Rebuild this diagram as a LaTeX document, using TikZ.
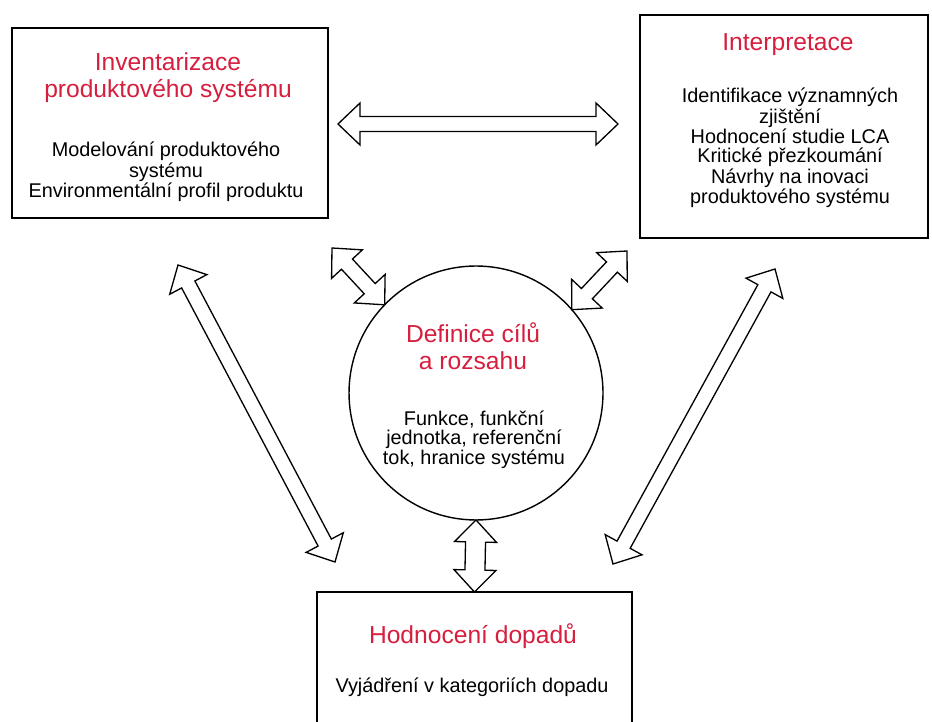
\documentclass[tikz,border=0pt]{standalone}
\usepackage{fontspec}
\setmainfont{Liberation Sans}
\usepackage{tikz}
\usetikzlibrary{positioning,calc}
\definecolor{lcared}{RGB}{214,30,62}
\tikzset{
  phasebox/.style={draw, line width=0.9pt, fill=white, inner sep=0pt, outer sep=0pt},
  goalnode/.style={draw, circle, line width=0.8pt, minimum size=5.08cm, inner sep=0pt, outer sep=0pt},
  headtext/.style={text=lcared, align=center, inner sep=0pt, font={\fontsize{14}{15.3}\selectfont}},
  bodytext/.style={text=black, align=center, inner sep=0pt, font={\fontsize{11.3}{10.6}\selectfont}},
  arrowline/.style={draw, line width=0.75pt, fill=white, line join=miter}
}
% hollow double arrow between two points, optional shaft half width
\newcommand{\hollowarrow}[3][0.15cm]{%
  \coordinate (hA) at ($(#2)!0.44cm!(#3)$);
  \coordinate (hB) at ($(#3)!0.44cm!(#2)$);
  \draw[arrowline] (#2) -- ($(hA)!0.42cm!90:(#3)$) -- ($(hA)!#1!90:(#3)$)
    -- ($(hB)!#1!-90:(#2)$) -- ($(hB)!0.42cm!-90:(#2)$) -- (#3)
    -- ($(hB)!0.42cm!90:(#2)$) -- ($(hB)!#1!90:(#2)$)
    -- ($(hA)!#1!-90:(#3)$) -- ($(hA)!0.42cm!-90:(#3)$) -- cycle;
}

\begin{document}
\begin{tikzpicture}[x=0.02cm, y=-0.02cm]
  \useasboundingbox (0,0) rectangle (932,722);

  % four phases
  \node[phasebox, minimum width=6.32cm, minimum height=3.8cm] (inv) at (170,123) {};
  \node[headtext] (invhead) at (168,78) {Inventarizace\\produktového systému};
  \node[bodytext] (invbody) at (166,172) {Modelování produktového\\systému\\Environmentální profil produktu};

  \node[phasebox, minimum width=5.76cm, minimum height=4.46cm] (int) at (784,126.5) {};
  \node[headtext] (inthead) at (788,45) {Interpretace};
  \node[bodytext] (intbody) at (790,148) {Identifikace významných\\zjištění\\Hodnocení studie LCA\\Kritické přezkoumání\\Návrhy na inovaci\\produktového systému};

  \node[goalnode] (def) at (476,393) {};
  \node[headtext] (defhead) at (473,346) {Definice cílů\\a rozsahu};
  \node[bodytext] (defbody) at (474,440) {Funkce, funkční\\jednotka, referenční\\tok, hranice systému};

  \node[phasebox, minimum width=6.3cm, minimum height=3.3cm] (hod) at (474.5,674.5) {};
  \node[headtext] (hodhead) at (473,636) {Hodnocení dopadů};
  \node[bodytext] (hodbody) at (472,687) {Vyjádření v kategoriích dopadu};

  % free arrow ends
  \coordinate (invR) at (338,124);
  \coordinate (intL) at (618,124);
  \coordinate (ulTip) at (332,248);
  \coordinate (urTip) at (627,251);
  \coordinate (invLow) at (178,265);
  \coordinate (hodUL) at (335,562);
  \coordinate (intLow) at (775,269);
  \coordinate (hodUR) at (613,564);

  % connections
  \hollowarrow{invR}{intL}
  \hollowarrow{ulTip}{def.136}
  \hollowarrow{urTip}{def.41}
  \hollowarrow{invLow}{hodUL}
  \hollowarrow{intLow}{hodUR}
  \hollowarrow[0.2cm]{def.south}{hod.north}
\end{tikzpicture}
\end{document}
